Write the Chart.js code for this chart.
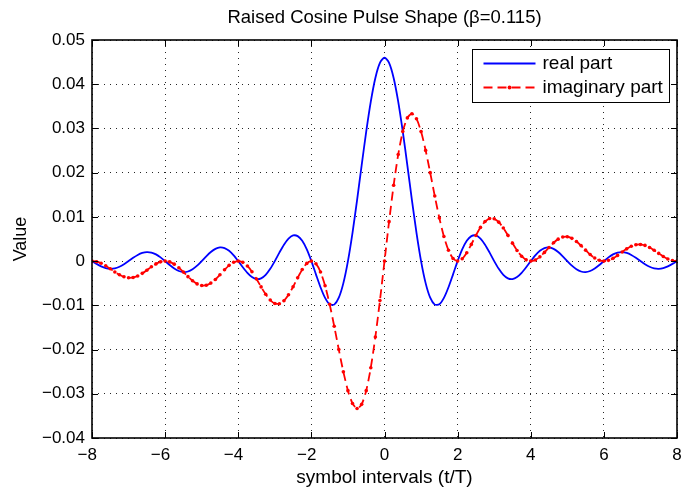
<!DOCTYPE html>
<html>
<head>
<meta charset="utf-8">
<title>Raised Cosine Pulse Shape</title>
<script src="https://cdn.jsdelivr.net/npm/chart.js@4.4.1/dist/chart.umd.min.js"></script>
<style>
  html, body { margin: 0; padding: 0; background: #fff; }
  #wrap { width: 683px; height: 490px; }
</style>
</head>
<body>
<div id="wrap"><canvas id="c" width="683" height="490"></canvas></div>
<script>
// sample instants, in symbol intervals (t/T)
const symbolTimes = [
  -8, -7.875, -7.75, -7.625, -7.5, -7.375, -7.25, -7.125,
  -7, -6.875, -6.75, -6.625, -6.5, -6.375, -6.25, -6.125,
  -6, -5.875, -5.75, -5.625, -5.5, -5.375, -5.25, -5.125,
  -5, -4.875, -4.75, -4.625, -4.5, -4.375, -4.25, -4.125,
  -4, -3.875, -3.75, -3.625, -3.5, -3.375, -3.25, -3.125,
  -3, -2.875, -2.75, -2.625, -2.5, -2.375, -2.25, -2.125,
  -2, -1.875, -1.75, -1.625, -1.5, -1.375, -1.25, -1.125,
  -1, -0.875, -0.75, -0.625, -0.5, -0.375, -0.25, -0.125,
  0,
  0.125, 0.25, 0.375, 0.5, 0.625, 0.75, 0.875, 1,
  1.125, 1.25, 1.375, 1.5, 1.625, 1.75, 1.875, 2,
  2.125, 2.25, 2.375, 2.5, 2.625, 2.75, 2.875, 3,
  3.125, 3.25, 3.375, 3.5, 3.625, 3.75, 3.875, 4,
  4.125, 4.25, 4.375, 4.5, 4.625, 4.75, 4.875, 5,
  5.125, 5.25, 5.375, 5.5, 5.625, 5.75, 5.875, 6,
  6.125, 6.25, 6.375, 6.5, 6.625, 6.75, 6.875, 7,
  7.125, 7.25, 7.375, 7.5, 7.625, 7.75, 7.875, 8
];

const realPart = [
  0, -0.00063, -0.00118, -0.00158, -0.00174, -0.00164, -0.00128, -0.00071,
  0, 0.00074, 0.00139, 0.00185, 0.00205, 0.00194, 0.00152, 0.00084,
  0, -0.00088, -0.00167, -0.00223, -0.00248, -0.00235, -0.00184, -0.00103,
  0, 0.00108, 0.00206, 0.00277, 0.00309, 0.00295, 0.00233, 0.00130,
  0, -0.00139, -0.00266, -0.00361, -0.00406, -0.00390, -0.00311, -0.00175,
  0, 0.00192, 0.00371, 0.00509, 0.00580, 0.00565, 0.00458, 0.00263,
  0, -0.00299, -0.00592, -0.00833, -0.00976, -0.00984, -0.00828, -0.00498,
  0, 0.00640, 0.01381, 0.02164, 0.02929, 0.03607, 0.04142, 0.04483,
  0.04600,
  0.04483, 0.04142, 0.03607, 0.02929, 0.02164, 0.01381, 0.00640, 0,
  -0.00498, -0.00828, -0.00984, -0.00976, -0.00833, -0.00592, -0.00299, 0,
  0.00263, 0.00458, 0.00565, 0.00580, 0.00509, 0.00371, 0.00192, 0,
  -0.00175, -0.00311, -0.00390, -0.00406, -0.00361, -0.00266, -0.00139, 0,
  0.00130, 0.00233, 0.00295, 0.00309, 0.00277, 0.00206, 0.00108, 0,
  -0.00103, -0.00184, -0.00235, -0.00248, -0.00223, -0.00167, -0.00088, 0,
  0.00084, 0.00152, 0.00194, 0.00205, 0.00185, 0.00139, 0.00074, 0,
  -0.00071, -0.00128, -0.00164, -0.00174, -0.00158, -0.00118, -0.00063, 0
];

const imagPart = [
  0, -0.00013, -0.00049, -0.00105, -0.00174, -0.00245, -0.00309, -0.00355,
  -0.00377, -0.00370, -0.00335, -0.00277, -0.00205, -0.00129, -0.00063, -0.00017,
  0, -0.00018, -0.00069, -0.00149, -0.00248, -0.00351, -0.00445, -0.00515,
  -0.00551, -0.00545, -0.00497, -0.00415, -0.00309, -0.00197, -0.00096, -0.00026,
  0, -0.00028, -0.00110, -0.00241, -0.00406, -0.00583, -0.00750, -0.00881,
  -0.00957, -0.00963, -0.00895, -0.00762, -0.00580, -0.00378, -0.00190, -0.00052,
  0, -0.00059, -0.00245, -0.00556, -0.00976, -0.01472, -0.02000, -0.02504,
  -0.02929, -0.03219, -0.03333, -0.03239, -0.02929, -0.02410, -0.01715, -0.00892,
  0,
  0.00892, 0.01715, 0.02410, 0.02929, 0.03239, 0.03333, 0.03219, 0.02929,
  0.02504, 0.02000, 0.01472, 0.00976, 0.00556, 0.00245, 0.00059, 0,
  0.00052, 0.00190, 0.00378, 0.00580, 0.00762, 0.00895, 0.00963, 0.00957,
  0.00881, 0.00750, 0.00583, 0.00406, 0.00241, 0.00110, 0.00028, 0,
  0.00026, 0.00096, 0.00197, 0.00309, 0.00415, 0.00497, 0.00545, 0.00551,
  0.00515, 0.00445, 0.00351, 0.00248, 0.00149, 0.00069, 0.00018, 0,
  0.00017, 0.00063, 0.00129, 0.00205, 0.00277, 0.00335, 0.00370, 0.00377,
  0.00355, 0.00309, 0.00245, 0.00174, 0.00105, 0.00049, 0.00013, 0
];

const seriesNames = ['real part', 'imaginary part'];
const chartTitle = 'Raised Cosine Pulse Shape (\u03B2=0.115)';
const xTitle = 'symbol intervals (t/T)';
const yTitle = 'Value';

const FONT = '"Liberation Sans", Arial, Helvetica, sans-serif';
const BLUE = '#0000ff';
const RED = '#ff0000';
const RED_DASH = [9, 5];

function minus(s){ return s.replace('-', '\u2212'); }

// matlab style box: solid frame with inward ticks on all four sides
const boxFrame = {
  id: 'boxFrame',
  afterDatasetsDraw(chart){
    const {ctx, chartArea: a, scales} = chart;
    ctx.save();
    ctx.strokeStyle = '#000';
    ctx.lineWidth = 1;
    ctx.beginPath();
    for(const t of scales.x.ticks){
      const px = Math.round(scales.x.getPixelForValue(t.value)) + 0.5;
      ctx.moveTo(px, a.bottom); ctx.lineTo(px, a.bottom - 6);
      ctx.moveTo(px, a.top); ctx.lineTo(px, a.top + 6);
    }
    for(const t of scales.y.ticks){
      const py = Math.round(scales.y.getPixelForValue(t.value)) + 0.5;
      ctx.moveTo(a.left, py); ctx.lineTo(a.left + 6, py);
      ctx.moveTo(a.right, py); ctx.lineTo(a.right - 6, py);
    }
    ctx.stroke();
    ctx.lineWidth = 1.6;
    ctx.strokeRect(a.left, a.top, a.right - a.left, a.bottom - a.top);
    ctx.restore();
  }
};

const boxLegend = {
  id: 'boxLegend',
  afterDraw(chart){
    const {ctx, chartArea: a} = chart;
    const w = 197, h = 53;
    const x0 = Math.round(a.right - 8 - w) + 0.5, y0 = Math.round(a.top + 9) + 0.5;
    ctx.save();
    ctx.fillStyle = '#fff';
    ctx.fillRect(x0, y0, w, h);
    ctx.strokeStyle = '#000';
    ctx.lineWidth = 1;
    ctx.strokeRect(x0, y0, w, h);

    const lx0 = x0 + 11, lx1 = x0 + 63;
    const rows = [y0 + 14, y0 + 38];
    // real part sample
    ctx.strokeStyle = BLUE;
    ctx.lineWidth = 1.8;
    ctx.beginPath(); ctx.moveTo(lx0, rows[0]); ctx.lineTo(lx1, rows[0]); ctx.stroke();
    // imaginary part sample
    ctx.strokeStyle = RED;
    ctx.setLineDash(RED_DASH);
    ctx.beginPath(); ctx.moveTo(lx0, rows[1]); ctx.lineTo(lx1, rows[1]); ctx.stroke();
    ctx.setLineDash([]);
    ctx.fillStyle = RED;
    ctx.beginPath(); ctx.arc((lx0 + lx1) / 2, rows[1], 1.9, 0, Math.PI * 2); ctx.fill();

    ctx.fillStyle = '#000';
    ctx.font = '19px ' + FONT;
    ctx.textBaseline = 'middle';
    ctx.textAlign = 'left';
    ctx.fillText(seriesNames[0], lx1 + 7, rows[0]);
    ctx.fillText(seriesNames[1], lx1 + 7, rows[1]);
    ctx.restore();
  }
};

const whiteBg = {
  id: 'whiteBg',
  beforeDraw(chart){
    const ctx = chart.ctx;
    ctx.save();
    ctx.fillStyle = '#fff';
    ctx.fillRect(0, 0, chart.width, chart.height);
    ctx.restore();
  }
};

Chart.defaults.font.family = FONT;
Chart.defaults.font.size = 17;
Chart.defaults.color = '#000';

const gridOpts = {color: 'rgba(0,0,0,0.85)', lineWidth: 1, drawTicks: false};

new Chart(document.getElementById('c'), {
  type: 'line',
  data: {
    datasets: [
      {
        label: seriesNames[0],
        data: symbolTimes.map((t, i) => ({x: t, y: realPart[i]})),
        borderColor: BLUE,
        borderWidth: 1.8,
        pointRadius: 0,
        tension: 0.25,
        order: 1
      },
      {
        label: seriesNames[1],
        data: symbolTimes.map((t, i) => ({x: t, y: imagPart[i]})),
        borderColor: RED,
        borderWidth: 1.8,
        borderDash: RED_DASH,
        pointRadius: 1.8,
        pointBorderWidth: 0,
        pointBackgroundColor: RED,
        tension: 0.25,
        order: 0
      }
    ]
  },
  options: {
    responsive: false,
    devicePixelRatio: 1,
    animation: false,
    events: [],
    layout: {padding: {left: 0, right: 6, top: 0, bottom: 0}},
    plugins: {
      legend: {display: false},
      tooltip: {enabled: false},
      title: {
        display: true,
        fullSize: false, // centre over the axes, not the canvas
        text: chartTitle,
        color: '#000',
        font: {size: 18.5, weight: 'normal'},
        padding: {top: 7, bottom: 10.8}
      }
    },
    scales: {
      x: {
        type: 'linear',
        min: -8, max: 8,
        grid: gridOpts,
        border: {display: false, dash: [1, 5]},
        ticks: {
          stepSize: 2,
          padding: 7,
          maxRotation: 0,
          autoSkip: false,
          // matlab hangs the minus sign left of the centred digits
          callback: v => v < 0 ? minus(String(v)) + '  ' : String(v)
        },
        title: {display: true, text: xTitle, font: {size: 19}, padding: {top: 0, bottom: 1}},
        afterFit(scale){
          scale.height = 52;
          scale.paddingLeft = 0;
          scale.paddingRight = 0;
        }
      },
      y: {
        min: -0.04, max: 0.05,
        grid: gridOpts,
        border: {display: false, dash: [1, 5]},
        ticks: {
          stepSize: 0.01,
          padding: 7,
          callback: v => Math.abs(v) < 1e-9 ? '0' : minus(v.toFixed(2))
        },
        title: {display: true, text: yTitle, font: {size: 18}, padding: {top: 10, bottom: 0}},
        afterFit(scale){ scale.width = 92; }
      }
    }
  },
  plugins: [whiteBg, boxFrame, boxLegend]
});
</script>
</body>
</html>
